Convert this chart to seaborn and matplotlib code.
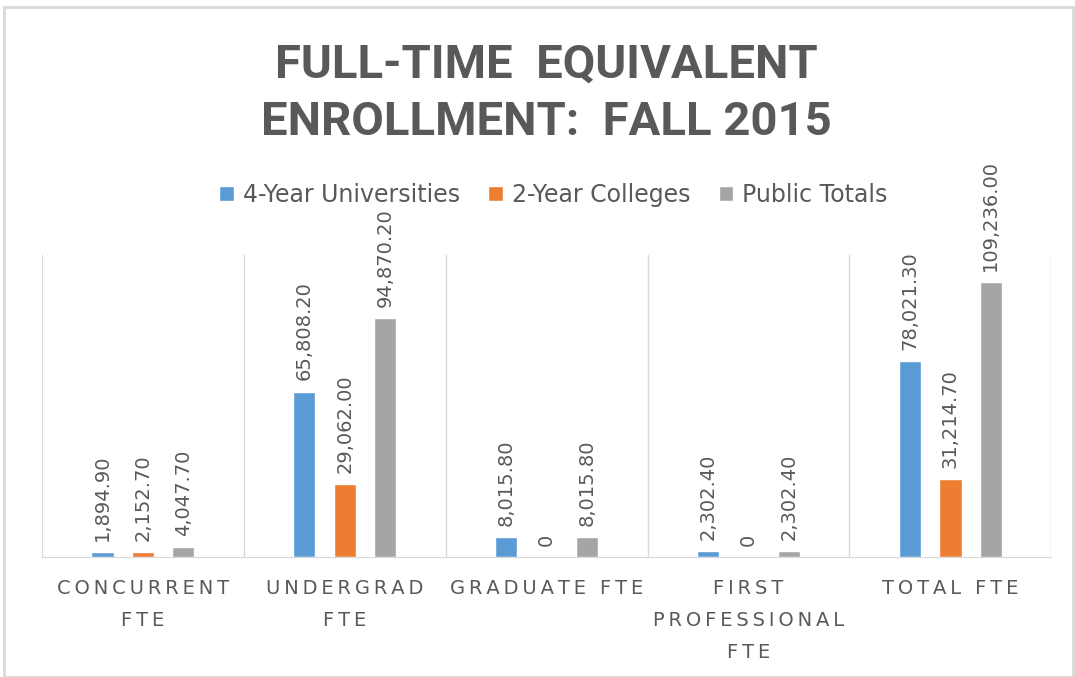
import matplotlib
matplotlib.use("Agg")
import matplotlib.pyplot as plt
import seaborn as sns
import pandas as pd
from matplotlib.patches import Rectangle

categories = ["CONCURRENT\nFTE", "UNDERGRAD\nFTE", "GRADUATE FTE",
              "FIRST\nPROFESSIONAL\nFTE", "TOTAL FTE"]
series = ["4-Year Universities", "2-Year Colleges", "Public Totals"]
univ = [1894.9, 65808.2, 8015.8, 2302.4, 78021.3]
college = [2152.7, 29062.0, 0, 0, 31214.7]
public = [4047.7, 94870.2, 8015.8, 2302.4, 109236.0]
colors = ["#5B9BD5", "#ED7D31", "#A5A5A5"]

df = pd.DataFrame({
    "cat": categories * 3,
    "series": [series[0]] * 5 + [series[1]] * 5 + [series[2]] * 5,
    "value": univ + college + public,
})

sns.set_style("white")
plt.rcParams["font.family"] = ["DejaVu Sans"]
txt = "#595959"


def spaced(s):
    # letter-spaced look for category labels
    return "\n".join("\u2009".join(line) for line in s.split("\n"))


fig = plt.figure(figsize=(10.75, 6.77), dpi=100)
ax = fig.add_axes([0.039, 0.177, 0.939, 0.446])

sns.barplot(data=df, x="cat", y="value", hue="series", palette=colors,
            width=0.6, gap=0.45, saturation=1, ax=ax, legend=True)

for cont, vals in zip(ax.containers, [univ, college, public]):
    labs = ["0" if v == 0 else f"{v:,.2f}" for v in vals]
    ax.bar_label(cont, labels=labs, rotation=90, padding=8,
                 color=txt, fontsize=14)

ax.set_ylim(0, 120000)
ax.set_xlim(-0.5, 4.5)
ax.set_yticks([])
ax.set_xlabel("")
ax.set_ylabel("")
ax.set_xticks(range(5))
ax.set_xticklabels([spaced(c) for c in categories])
ax.set_xticks([i + 0.5 for i in range(-1, 5)], minor=True)
ax.grid(True, which="minor", axis="x", color="#d9d9d9", lw=1)
ax.tick_params(axis="x", which="both", length=0)
ax.tick_params(axis="x", pad=16)
for lab in ax.get_xticklabels():
    lab.set_color(txt)
    lab.set_fontsize(14)
    lab.set_linespacing(1.85)
for s in ["top", "left", "right"]:
    ax.spines[s].set_visible(False)
ax.spines["bottom"].set_color("#d9d9d9")

h, l = ax.get_legend_handles_labels()
ax.get_legend().remove()
fig.legend(h, l, loc="center", bbox_to_anchor=(0.515, 0.712), ncol=3,
           frameon=False, fontsize=17, labelcolor=txt, handlelength=0.6,
           handleheight=0.6, columnspacing=1.2, handletextpad=0.4)

fig.text(0.508, 0.862, "FULL-TIME  EQUIVALENT\nENROLLMENT:  FALL 2015",
         ha="center", va="center", fontsize=34, fontweight="bold",
         color=txt, linespacing=1.4, family=["Roboto", "DejaVu Sans"])

fig.patches.append(Rectangle((0.004, 0.0), 0.994, 0.99, transform=fig.transFigure,
                             fill=False, edgecolor="#d9d9d9", lw=2))

fig.savefig("out.png", dpi=100)
